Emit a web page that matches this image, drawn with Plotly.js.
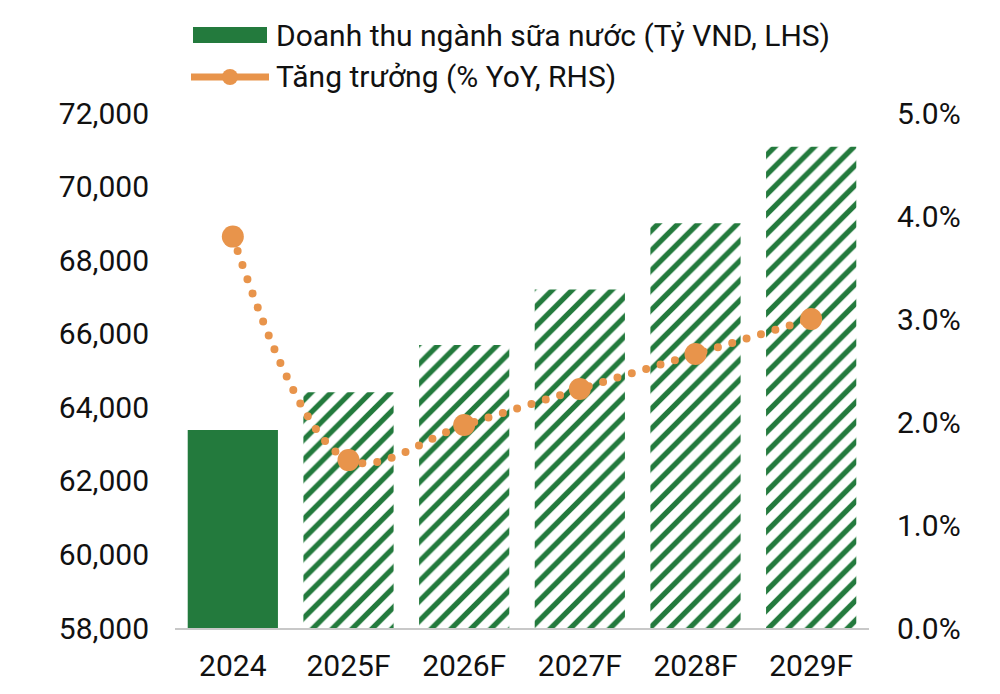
<!DOCTYPE html>
<html>
<head>
<meta charset="utf-8">
<script src="https://cdn.plot.ly/plotly-3.0.1.min.js"></script>
<style>
html,body{margin:0;padding:0;background:#fff;}
#chart{width:1000px;height:694px;}
.scatterlayer .js-line{stroke-linecap:round;}
</style>
</head>
<body>
<div id="chart"></div>
<script>
const categories = ["2024", "2025F", "2026F", "2027F", "2028F", "2029F"];
const revenue = [63380, 64410, 65690, 67200, 69000, 71080];
const growth = [3.80, 1.63, 1.97, 2.32, 2.66, 3.00];
const patternShapes = ["", "/", "/", "/", "/", "/"];
const seriesNames = ["Doanh thu ngành sữa nước (Tỷ VND, LHS)", "Tăng trưởng (% YoY, RHS)"];

const green = "#237a3d";
const orange = "#e8944b";
const fontFamily = "Roboto, Arial, sans-serif";

// plot area geometry (pixels)
const M = {l: 175, r: 131, t: 113, b: 66};
const W = 1000, H = 694;
const PW = W - M.l - M.r, PH = H - M.t - M.b;
const px = x => (x - M.l) / PW;
const py = y => (H - M.b - y) / PH;

const traces = [
  {
    type: "bar",
    name: seriesNames[0],
    x: categories,
    y: revenue,
    marker: {
      color: green,
      line: {width: 0},
      pattern: {shape: patternShapes, fgcolor: green, bgcolor: "#ffffff", size: 14, solidity: 0.38, fillmode: "replace"}
    },
    yaxis: "y",
    showlegend: false,
    hoverinfo: "skip"
  },
  {
    type: "scatter",
    mode: "lines+markers",
    name: seriesNames[1],
    x: categories,
    y: growth,
    line: {color: orange, width: 8, dash: "0px,15px", shape: "spline", smoothing: 1.0},
    marker: {color: orange, size: 22, line: {width: 0}},
    yaxis: "y2",
    showlegend: false,
    hoverinfo: "skip"
  }
];

const tickFont = {family: fontFamily, size: 30, color: "#111"};

const shapes = [
  {type: "rect", xref: "paper", yref: "paper", x0: px(193), x1: px(267), y0: py(43), y1: py(27),
   fillcolor: green, line: {width: 0}},
  {type: "line", xref: "paper", yref: "paper", x0: px(191), x1: px(269), y0: py(77), y1: py(77),
   line: {color: orange, width: 7}},
  {type: "circle", xref: "paper", yref: "paper", x0: px(222), x1: px(238), y0: py(85), y1: py(69),
   fillcolor: orange, line: {width: 0}}
];

const annotations = [
  {xref: "paper", yref: "paper", x: px(274), y: py(35), xanchor: "left", yanchor: "middle",
   text: seriesNames[0], showarrow: false, font: {family: fontFamily, size: 30, color: "#111"}},
  {xref: "paper", yref: "paper", x: px(274), y: py(77), xanchor: "left", yanchor: "middle",
   text: seriesNames[1], showarrow: false, font: {family: fontFamily, size: 30, color: "#111"}}
];

const layout = {
  width: W,
  height: H,
  margin: M,
  paper_bgcolor: "#fff",
  plot_bgcolor: "#fff",
  bargap: 0.22,
  showlegend: false,
  shapes: shapes,
  annotations: annotations,
  xaxis: {
    type: "category",
    showline: true, linecolor: "#c8c8c8", linewidth: 2,
    showgrid: false, ticks: "",
    tickfont: tickFont,
    ticklabelstandoff: 10
  },
  yaxis: {
    range: [58000, 72000],
    tickvals: [58000, 60000, 62000, 64000, 66000, 68000, 70000, 72000],
    tickformat: ",.0f",
    showgrid: false, zeroline: false, showline: false, ticks: "",
    tickfont: tickFont,
    ticklabelstandoff: 25
  },
  yaxis2: {
    overlaying: "y", side: "right",
    range: [0, 5],
    tickvals: [0, 1, 2, 3, 4, 5],
    ticktext: ["0.0%", "1.0%", "2.0%", "3.0%", "4.0%", "5.0%"],
    showgrid: false, zeroline: false, showline: false, ticks: "",
    tickfont: tickFont,
    ticklabelstandoff: 27
  }
};

Plotly.newPlot("chart", traces, layout, {displayModeBar: false, staticPlot: true});
</script>
</body>
</html>
